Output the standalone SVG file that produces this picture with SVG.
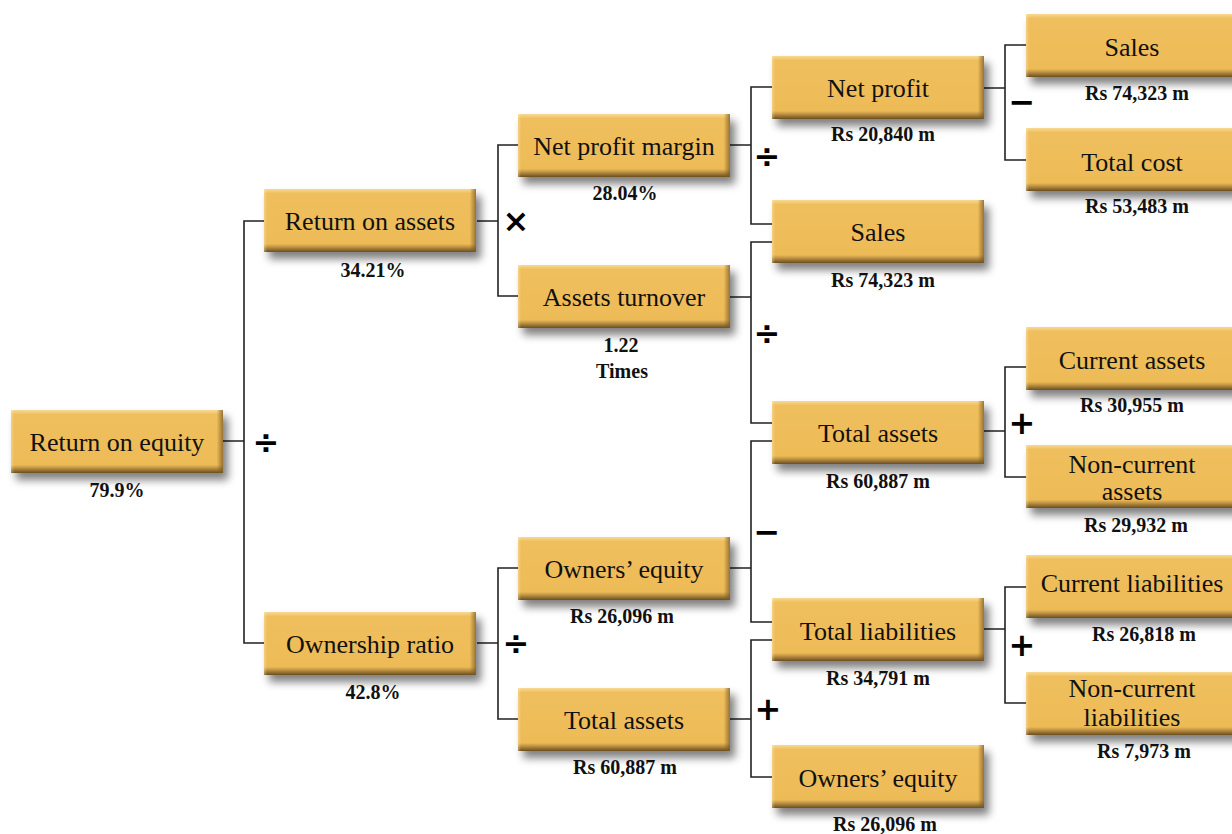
<svg xmlns="http://www.w3.org/2000/svg" width="1232" height="834" viewBox="0 0 1232 834">
<defs>
<linearGradient id="face" x1="0" y1="0" x2="0" y2="1">
<stop offset="0" stop-color="#F7D995"/>
<stop offset="0.07" stop-color="#F0BF5D"/>
<stop offset="0.87" stop-color="#EDBB57"/>
<stop offset="0.91" stop-color="#C99C47"/>
<stop offset="1" stop-color="#6A4E20"/>
</linearGradient>
<linearGradient id="rside" x1="0" y1="0" x2="1" y2="0">
<stop offset="0" stop-color="#FFF3D0" stop-opacity="0.35"/>
<stop offset="0.015" stop-color="#FFF3D0" stop-opacity="0"/>
<stop offset="0.97" stop-color="#7A5A22" stop-opacity="0"/>
<stop offset="1" stop-color="#7A5A22" stop-opacity="0.75"/>
</linearGradient>
<filter id="sh" x="-10%" y="-20%" width="125%" height="160%">
<feGaussianBlur in="SourceAlpha" stdDeviation="4"/>
<feOffset dx="5" dy="7" result="b"/>
<feComponentTransfer><feFuncA type="linear" slope="0.5"/></feComponentTransfer>
<feMerge><feMergeNode/><feMergeNode in="SourceGraphic"/></feMerge>
</filter>
</defs>
<style>
.box{fill:url(#face);filter:url(#sh)}
.side{fill:url(#rside)}
.lbl{font-family:"Liberation Serif",serif;font-size:26px;fill:#111;text-anchor:middle}
.val{font-family:"Liberation Serif",serif;font-size:20px;font-weight:bold;fill:#111;text-anchor:middle}
.op{font-family:"DejaVu Sans",sans-serif;font-size:32px;font-weight:bold;fill:#000;text-anchor:middle}
.con{fill:none;stroke:#222;stroke-width:1.6}
</style>
<rect width="1232" height="834" fill="#fff"/>

<g id="connectors">
<path class="con" d="M223,441 H244 M264,221 H244 V643 H264"/>
<path class="con" d="M477,221 H498 M518,145 H498 V296 H518"/>
<path class="con" d="M477,643 H498 M518,568 H498 V719 H518"/>
<path class="con" d="M730,145 H751 M772,87 H751 V224 H772"/>
<path class="con" d="M730,297 H751 M772,242 H751 V423 H772"/>
<path class="con" d="M730,568 H751 M772,441 H751 V622 H772"/>
<path class="con" d="M730,719 H751 M772,640 H751 V777 H772"/>
<path class="con" d="M984,88 H1005 M1026,45 H1005 V160 H1026"/>
<path class="con" d="M984,431 H1005 M1026,367 H1005 V477 H1026"/>
<path class="con" d="M984,629 H1005 M1026,587 H1005 V703 H1026"/>
</g>

<g id="operators">
<text class="op" x="266" y="453">÷</text>
<text class="op" x="516" y="232">×</text>
<text class="op" x="767" y="167">÷</text>
<text class="op" x="767" y="344">÷</text>
<text class="op" x="767" y="543">−</text>
<text class="op" x="768" y="720">+</text>
<text class="op" x="516" y="654">÷</text>
<text class="op" x="1022" y="113">−</text>
<text class="op" x="1022" y="434">+</text>
<text class="op" x="1022" y="656">+</text>
</g>

<g id="n-roe"><rect class="box" x="11" y="410" width="212" height="63"/><rect class="side" x="11" y="410" width="212" height="63"/>
<text class="lbl" x="117" y="451">Return on equity</text><text class="val" x="117" y="497">79.9%</text></g>

<g id="n-roa"><rect class="box" x="264" y="189" width="212" height="63"/><rect class="side" x="264" y="189" width="212" height="63"/>
<text class="lbl" x="370" y="230">Return on assets</text><text class="val" x="373" y="277">34.21%</text></g>

<g id="n-own"><rect class="box" x="264" y="612" width="212" height="63"/><rect class="side" x="264" y="612" width="212" height="63"/>
<text class="lbl" x="370" y="653">Ownership ratio</text><text class="val" x="373" y="699">42.8%</text></g>

<g id="n-npm"><rect class="box" x="518" y="114" width="212" height="63"/><rect class="side" x="518" y="114" width="212" height="63"/>
<text class="lbl" x="624" y="155">Net profit margin</text><text class="val" x="625" y="200">28.04%</text></g>

<g id="n-at"><rect class="box" x="518" y="265" width="212" height="63"/><rect class="side" x="518" y="265" width="212" height="63"/>
<text class="lbl" x="624" y="306">Assets turnover</text><text class="val" x="621" y="352">1.22</text><text class="val" x="622" y="378">Times</text></g>

<g id="n-oe2"><rect class="box" x="518" y="537" width="212" height="63"/><rect class="side" x="518" y="537" width="212" height="63"/>
<text class="lbl" x="624" y="578">Owners’ equity</text><text class="val" x="622" y="623">Rs 26,096 m</text></g>

<g id="n-ta2"><rect class="box" x="518" y="688" width="212" height="63"/><rect class="side" x="518" y="688" width="212" height="63"/>
<text class="lbl" x="624" y="729">Total assets</text><text class="val" x="625" y="774">Rs 60,887 m</text></g>

<g id="n-np"><rect class="box" x="772" y="56" width="212" height="63"/><rect class="side" x="772" y="56" width="212" height="63"/>
<text class="lbl" x="878" y="97">Net profit</text><text class="val" x="883" y="141">Rs 20,840 m</text></g>

<g id="n-sales3"><rect class="box" x="772" y="200" width="212" height="63"/><rect class="side" x="772" y="200" width="212" height="63"/>
<text class="lbl" x="878" y="241">Sales</text><text class="val" x="883" y="287">Rs 74,323 m</text></g>

<g id="n-ta3"><rect class="box" x="772" y="401" width="212" height="63"/><rect class="side" x="772" y="401" width="212" height="63"/>
<text class="lbl" x="878" y="442">Total assets</text><text class="val" x="878" y="488">Rs 60,887 m</text></g>

<g id="n-tl"><rect class="box" x="772" y="598" width="212" height="63"/><rect class="side" x="772" y="598" width="212" height="63"/>
<text class="lbl" x="878" y="640">Total liabilities</text><text class="val" x="878" y="685">Rs 34,791 m</text></g>

<g id="n-oe3"><rect class="box" x="772" y="745" width="212" height="63"/><rect class="side" x="772" y="745" width="212" height="63"/>
<text class="lbl" x="878" y="787">Owners’ equity</text><text class="val" x="885" y="831">Rs 26,096 m</text></g>

<g id="n-sales4"><rect class="box" x="1026" y="14" width="212" height="63"/><rect class="side" x="1026" y="14" width="212" height="63"/>
<text class="lbl" x="1132" y="56">Sales</text><text class="val" x="1137" y="100">Rs 74,323 m</text></g>

<g id="n-tc"><rect class="box" x="1026" y="128" width="212" height="63"/><rect class="side" x="1026" y="128" width="212" height="63"/>
<text class="lbl" x="1132" y="171">Total cost</text><text class="val" x="1137" y="213">Rs 53,483 m</text></g>

<g id="n-ca"><rect class="box" x="1026" y="327" width="212" height="63"/><rect class="side" x="1026" y="327" width="212" height="63"/>
<text class="lbl" x="1132" y="369">Current assets</text><text class="val" x="1132" y="412">Rs 30,955 m</text></g>

<g id="n-nca"><rect class="box" x="1026" y="445" width="212" height="63"/><rect class="side" x="1026" y="445" width="212" height="63"/>
<text class="lbl" x="1132" y="473">Non-current</text><text class="lbl" x="1132" y="500">assets</text><text class="val" x="1136" y="532">Rs 29,932 m</text></g>

<g id="n-cl"><rect class="box" x="1026" y="555" width="212" height="63"/><rect class="side" x="1026" y="555" width="212" height="63"/>
<text class="lbl" x="1132" y="592">Current liabilities</text><text class="val" x="1144" y="641">Rs 26,818 m</text></g>

<g id="n-ncl"><rect class="box" x="1026" y="672" width="212" height="63"/><rect class="side" x="1026" y="672" width="212" height="63"/>
<text class="lbl" x="1132" y="697">Non-current</text><text class="lbl" x="1132" y="726">liabilities</text><text class="val" x="1144" y="758">Rs 7,973 m</text></g>
</svg>
